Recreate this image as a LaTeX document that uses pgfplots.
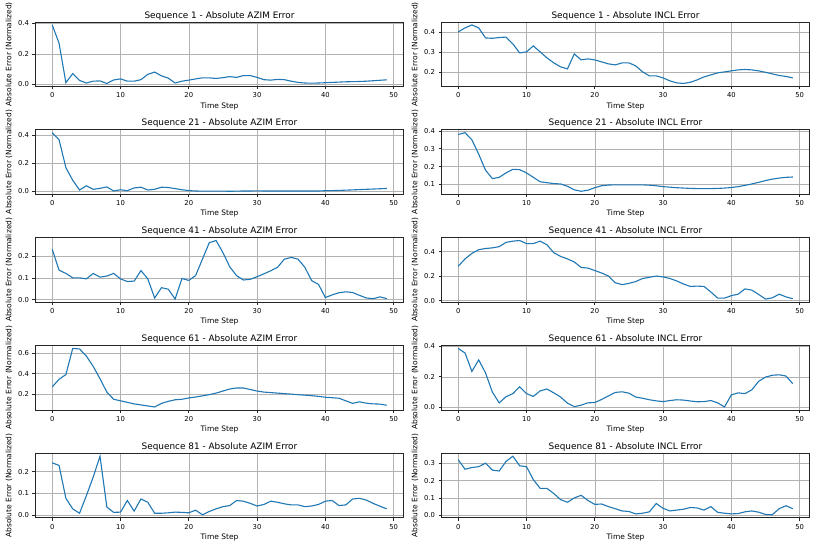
\documentclass[border=0pt]{standalone}
\usepackage{pgfplots}
\pgfplotsset{compat=1.18}
\usepackage{fontspec}
\setmainfont{DejaVu Sans}
\definecolor{mplblue}{RGB}{31,119,180}
\newcommand\titlefont{\fontsize{8.9pt}{10.5pt}\selectfont}
\newcommand\labfont{\fontsize{7.5pt}{9pt}\selectfont}
\newcommand\tickfont{\fontsize{6.8pt}{8pt}\selectfont}
\pgfplotsset{
 sub/.style={
  scale only axis, width=368pt, height=64.4pt, anchor=south west,
  xmin=-2.45, xmax=51.45, enlarge y limits=0.05, xtick={0,10,...,50},
  grid=major, major grid style={color=black!30, line width=0.5pt},
  tick align=outside, tick pos=left, major tick length=3pt,
  every tick/.style={black!85, line width=0.6pt},
  axis line style={black!85, line width=0.6pt},
  tick label style={font=\tickfont},
  label style={font=\labfont},
  title style={font=\titlefont, yshift=-7.5pt},
  xlabel={Time Step}, ylabel={Absolute Error (Normalized)},
  /pgf/number format/assume math mode=true,
  scaled y ticks=false,
  y tick label style={/pgf/number format/.cd, fixed, fixed zerofill, precision=1},
  cycle list={{mplblue, mark=none}},
  every axis plot post/.append style={line width=1.1pt},
  xlabel style={yshift=2.5pt},
  ylabel style={yshift=-1pt},
 },
 /pgfplots/table/ser/.style={header=false, x expr=\coordindex, y index=0, row sep=\\},
}
\begin{document}
\titlefont\labfont\tickfont\normalsize
\begin{tikzpicture}
\path[use as bounding box] (0,0) rectangle (817pt,547pt);
% Row 1
\begin{axis}[sub, at={(35.5pt,460.6pt)}, title={Sequence 1 - Absolute AZIM Error}, ytick={0,0.2,0.4}]
\addplot table[ser]{0.39\\0.27\\0.01\\0.07\\0.025\\0.008\\0.02\\0.022\\0.005\\0.028\\0.035\\0.02\\0.02\\0.03\\0.065\\0.08\\0.055\\0.04\\0.008\\0.02\\0.027\\0.035\\0.042\\0.042\\0.038\\0.043\\0.05\\0.045\\0.057\\0.057\\0.045\\0.03\\0.027\\0.032\\0.03\\0.02\\0.012\\0.008\\0.007\\0.008\\0.01\\0.012\\0.014\\0.016\\0.017\\0.018\\0.02\\0.023\\0.026\\0.029\\};
\end{axis}
\begin{axis}[sub, at={(441.5pt,460.6pt)}, title={Sequence 1 - Absolute INCL Error}, ytick={0.2,0.3,0.4}]
\addplot table[ser]{0.40\\0.42\\0.435\\0.42\\0.37\\0.368\\0.372\\0.374\\0.34\\0.295\\0.30\\0.33\\0.30\\0.27\\0.245\\0.225\\0.215\\0.29\\0.26\\0.265\\0.26\\0.25\\0.24\\0.235\\0.245\\0.245\\0.23\\0.20\\0.18\\0.18\\0.17\\0.155\\0.145\\0.142\\0.148\\0.16\\0.175\\0.185\\0.195\\0.20\\0.205\\0.21\\0.212\\0.21\\0.205\\0.198\\0.19\\0.182\\0.177\\0.17\\};
\end{axis}
% Row 2
\begin{axis}[sub, at={(35.5pt,352.8pt)}, title={Sequence 21 - Absolute AZIM Error}, ytick={0,0.2,0.4}]
\addplot table[ser]{0.42\\0.37\\0.17\\0.08\\0.01\\0.04\\0.015\\0.022\\0.032\\0.003\\0.012\\0.005\\0.025\\0.03\\0.01\\0.015\\0.03\\0.028\\0.02\\0.012\\0.006\\0.003\\0.002\\0.002\\0.002\\0.002\\0.001\\0.002\\0.003\\0.003\\0.004\\0.003\\0.003\\0.003\\0.003\\0.003\\0.003\\0.003\\0.003\\0.003\\0.005\\0.006\\0.007\\0.009\\0.011\\0.013\\0.015\\0.017\\0.019\\0.021\\};
\end{axis}
\begin{axis}[sub, at={(441.5pt,352.8pt)}, title={Sequence 21 - Absolute INCL Error}, ytick={0.1,0.2,0.3,0.4}]
\addplot table[ser]{0.38\\0.39\\0.35\\0.27\\0.18\\0.133\\0.14\\0.165\\0.185\\0.183\\0.165\\0.14\\0.115\\0.11\\0.105\\0.103\\0.09\\0.07\\0.062\\0.068\\0.082\\0.093\\0.097\\0.098\\0.098\\0.098\\0.098\\0.098\\0.096\\0.093\\0.088\\0.085\\0.082\\0.08\\0.078\\0.077\\0.077\\0.077\\0.078\\0.08\\0.083\\0.088\\0.095\\0.103\\0.112\\0.122\\0.13\\0.136\\0.14\\0.142\\};
\end{axis}
% Row 3
\begin{axis}[sub, at={(35.5pt,245pt)}, title={Sequence 41 - Absolute AZIM Error}, ytick={0,0.1,0.2}]
\addplot table[ser]{0.23\\0.135\\0.12\\0.10\\0.10\\0.095\\0.12\\0.103\\0.108\\0.12\\0.095\\0.083\\0.085\\0.133\\0.095\\0.008\\0.055\\0.048\\0.003\\0.097\\0.088\\0.11\\0.185\\0.26\\0.27\\0.215\\0.15\\0.11\\0.09\\0.093\\0.105\\0.118\\0.132\\0.148\\0.185\\0.193\\0.185\\0.148\\0.087\\0.07\\0.01\\0.022\\0.032\\0.036\\0.033\\0.02\\0.008\\0.005\\0.013\\0.005\\};
\end{axis}
\begin{axis}[sub, at={(441.5pt,245pt)}, title={Sequence 41 - Absolute INCL Error}, ytick={0,0.2,0.4}]
\addplot table[ser]{0.28\\0.34\\0.385\\0.415\\0.425\\0.43\\0.44\\0.475\\0.485\\0.49\\0.465\\0.465\\0.485\\0.455\\0.39\\0.36\\0.34\\0.315\\0.27\\0.265\\0.245\\0.225\\0.2\\0.145\\0.13\\0.14\\0.155\\0.18\\0.19\\0.2\\0.193\\0.18\\0.16\\0.135\\0.115\\0.118\\0.115\\0.07\\0.02\\0.02\\0.04\\0.052\\0.095\\0.085\\0.05\\0.012\\0.022\\0.052\\0.03\\0.015\\};
\end{axis}
% Row 4
\begin{axis}[sub, at={(35.5pt,137.1pt)}, title={Sequence 61 - Absolute AZIM Error}, ytick={0.2,0.4,0.6}]
\addplot table[ser]{0.27\\0.345\\0.39\\0.645\\0.64\\0.57\\0.47\\0.35\\0.22\\0.15\\0.135\\0.12\\0.105\\0.095\\0.085\\0.075\\0.11\\0.13\\0.145\\0.15\\0.163\\0.172\\0.183\\0.195\\0.21\\0.23\\0.25\\0.26\\0.26\\0.245\\0.23\\0.22\\0.215\\0.21\\0.205\\0.2\\0.195\\0.19\\0.185\\0.178\\0.17\\0.165\\0.16\\0.135\\0.11\\0.125\\0.112\\0.105\\0.103\\0.092\\};
\end{axis}
\begin{axis}[sub, at={(441.5pt,137.1pt)}, title={Sequence 61 - Absolute INCL Error}, ytick={0,0.2,0.4}]
\addplot table[ser]{0.385\\0.355\\0.235\\0.31\\0.225\\0.1\\0.03\\0.07\\0.09\\0.135\\0.09\\0.072\\0.108\\0.12\\0.095\\0.068\\0.028\\0.005\\0.015\\0.03\\0.032\\0.052\\0.075\\0.098\\0.102\\0.093\\0.068\\0.06\\0.05\\0.043\\0.038\\0.045\\0.05\\0.048\\0.042\\0.037\\0.038\\0.045\\0.03\\0.003\\0.082\\0.095\\0.09\\0.115\\0.17\\0.198\\0.21\\0.213\\0.205\\0.155\\};
\end{axis}
% Row 5
\begin{axis}[sub, at={(35.5pt,29.3pt)}, title={Sequence 81 - Absolute AZIM Error}, ytick={0,0.1,0.2}]
\addplot table[ser]{0.24\\0.228\\0.078\\0.03\\0.01\\0.09\\0.175\\0.27\\0.038\\0.014\\0.015\\0.068\\0.02\\0.075\\0.06\\0.01\\0.01\\0.012\\0.015\\0.014\\0.012\\0.024\\0.003\\0.018\\0.03\\0.04\\0.045\\0.068\\0.065\\0.055\\0.043\\0.05\\0.065\\0.06\\0.053\\0.048\\0.048\\0.04\\0.043\\0.05\\0.065\\0.068\\0.045\\0.048\\0.075\\0.078\\0.07\\0.055\\0.042\\0.03\\};
\end{axis}
\begin{axis}[sub, at={(441.5pt,29.3pt)}, title={Sequence 81 - Absolute INCL Error}, ytick={0,0.1,0.2,0.3}]
\addplot table[ser]{0.32\\0.265\\0.275\\0.28\\0.30\\0.26\\0.255\\0.31\\0.34\\0.285\\0.28\\0.205\\0.155\\0.155\\0.125\\0.09\\0.075\\0.1\\0.115\\0.085\\0.063\\0.065\\0.05\\0.038\\0.025\\0.022\\0.008\\0.012\\0.02\\0.068\\0.04\\0.025\\0.03\\0.035\\0.045\\0.042\\0.03\\0.05\\0.017\\0.012\\0.008\\0.01\\0.02\\0.025\\0.018\\0.005\\0.003\\0.038\\0.055\\0.038\\};
\end{axis}
\end{tikzpicture}
\end{document}
